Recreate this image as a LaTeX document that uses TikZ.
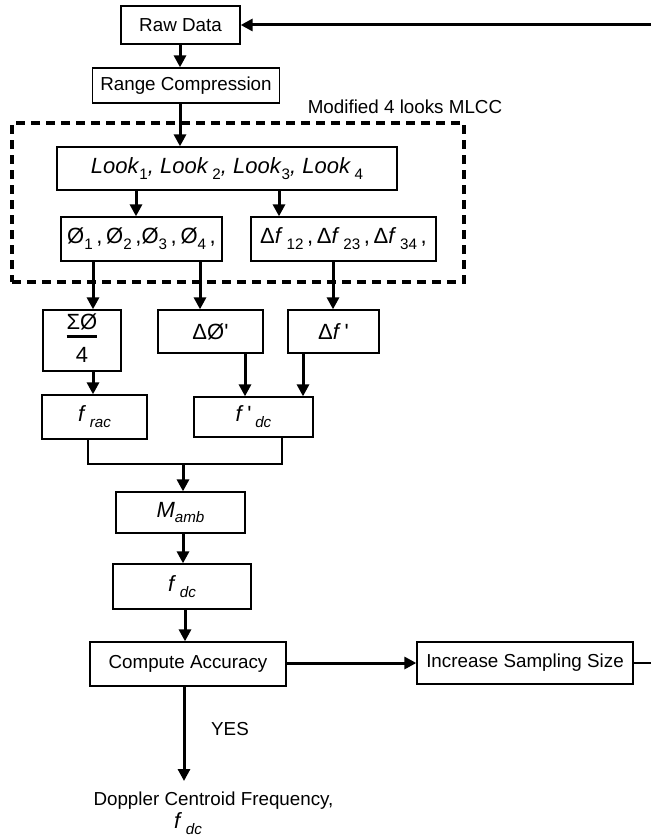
\documentclass[tikz,border=0pt]{standalone}
\usepackage{fontspec}
\setmainfont{Liberation Sans}
\usetikzlibrary{arrows.meta}

% lowered subscript in text mode
\newcommand\lowsub[1]{\raisebox{-0.5ex}{\fontsize{7.6}{8}\selectfont #1}}
\newcommand\tick{\textquotesingle}

\begin{document}
\begin{tikzpicture}[x=0.5pt,y=-0.5pt,
  box/.style={draw,line width=0.65pt,inner sep=0pt,font=\fontsize{9.4}{11}\selectfont},
  mbox/.style={box,font=\fontsize{11}{13}\selectfont},
  plain/.style={inner sep=0pt,font=\fontsize{9.4}{11}\selectfont},
  arr/.style={line width=1.5pt,-{Triangle[length=6pt,width=6pt]}},
  thin/.style={line width=0.65pt},
  groupbox/.style={draw,line width=1.6pt,dash pattern=on 4.5pt off 3pt,inner sep=0pt}]

\useasboundingbox (0,0) rectangle (651,840);
\clip (0,0) rectangle (651,840);

% dashed group for the MLCC stage
\node[groupbox,minimum width=226pt,minimum height=79.5pt] (mlcc) at (238,202.5) {};
\node[plain] (mlcclbl) at (405,107) {Modified 4 looks MLCC};

% boxes
\node[box,minimum width=59.5pt,minimum height=19pt] (raw) at (180.5,25) {Raw Data};
\node[box,minimum width=93.75pt,minimum height=17.5pt] (range) at (186,85.5) {Range Compression};
\node[mbox,minimum width=170pt,minimum height=21.5pt] (look) at (227,168.5)
  {\textit{Look}\lowsub{1}\textit{, Look}\,\lowsub{2}\textit{, Look}\lowsub{3}\textit{, Look}\,\lowsub{4}};
\node[mbox,minimum width=80.5pt,minimum height=22pt] (phi) at (141.5,239)
  {Ø\lowsub{1}\,,\,Ø\lowsub{2}\,,Ø\lowsub{3}\,,\,Ø\lowsub{4}\,,};
\node[mbox,minimum width=92.5pt,minimum height=22pt] (df) at (343.5,239)
  {Δ\textit{f}\,\lowsub{12}\,,\,Δ\textit{f}\,\lowsub{23}\,,\,Δ\textit{f}\,\lowsub{34}\,,};
\node[mbox,minimum width=39pt,minimum height=30.5pt] (sum) at (82,340.5)
  {\begin{tabular}{@{}c@{}}ΣØ\\[-1pt]\noalign{\hrule height 1.5pt}\rule{0pt}{12pt}4\end{tabular}};
\node[mbox,minimum width=52.5pt,minimum height=21.5pt] (dphi) at (210.5,331.5) {ΔØ\tick};
\node[mbox,minimum width=45.5pt,minimum height=21.5pt] (dfp) at (333.5,331.5) {Δ\textit{f}\,\tick};
\node[mbox,minimum width=52.5pt,minimum height=22pt] (frac) at (94.5,417) {\textit{f}\,\lowsub{\textit{rac}}};
\node[mbox,minimum width=59.5pt,minimum height=20pt] (fpdc) at (253.5,417) {\textit{f}\,\tick\,\lowsub{\textit{dc}}};
\node[mbox,minimum width=64.5pt,minimum height=20.5pt] (mamb) at (180.5,512.5) {\textit{M}\lowsub{\textit{amb}}};
\node[mbox,minimum width=69pt,minimum height=22.5pt] (fdc) at (182,586.5) {\textit{f}\,\lowsub{\textit{dc}}};
\node[box,minimum width=98pt,minimum height=22pt] (comp) at (188,664) {Compute Accuracy};
\node[box,minimum width=108pt,minimum height=21pt] (inc) at (525,663) {Increase Sampling Size};

% result text
\node[plain] (yes) at (230,729) {YES};
\node[plain] (result) at (213.5,801) {Doppler Centroid Frequency,};
\node[mbox,draw=none] (resultf) at (188,824) {\textit{f}\,\lowsub{\textit{dc}}};

% column positions of the vertical connectors
\coordinate (cA) at (180,0);
\coordinate (cB) at (136,0);
\coordinate (cC) at (279,0);
\coordinate (cD) at (93,0);
\coordinate (cE) at (200,0);
\coordinate (cF) at (333,0);
\coordinate (cG) at (245,0);
\coordinate (cH) at (303,0);
\coordinate (cK) at (183,0);
\coordinate (cL) at (185,0);
\coordinate (cM) at (184,0);

% merge of f_rac and f'_dc
\coordinate (mjL) at (88,464);
\coordinate (mjR) at (282,464);
\coordinate (mj) at (183,464);
\coordinate (out) at (184,781);

% loop back path beyond the right edge
\coordinate (loopB) at (690,663);
\coordinate (loopT) at (690,25);

% connectors
\draw[arr] (raw.south -| cA) -- (range.north -| cA);
\draw[arr] (range.south -| cA) -- (look.north -| cA);
\draw[arr] (look.south -| cB) -- (phi.north -| cB);
\draw[arr] (look.south -| cC) -- (df.north -| cC);
\draw[arr] (phi.south -| cD) -- (sum.north -| cD);
\draw[arr] (phi.south -| cE) -- (dphi.north -| cE);
\draw[arr] (df.south -| cF) -- (dfp.north -| cF);
\draw[arr] (sum.south -| cD) -- (frac.north -| cD);
\draw[arr] (dphi.south -| cG) -- (fpdc.north -| cG);
\draw[arr] (dfp.south -| cH) -- (fpdc.north -| cH);
\draw[thin] (frac.south -| mjL) -- (mjL) -- (mjR) -- (fpdc.south -| mjR);
\draw[arr] (mj) -- (mamb.north -| cK);
\draw[arr] (mamb.south -| cK) -- (fdc.north -| cK);
\draw[arr] (fdc.south -| cL) -- (comp.north -| cL);
\draw[arr] (comp.south -| cM) -- (out);
\draw[arr] (comp.east |- inc.west) -- (inc.west);
\draw[thin] (inc.east) -- (loopB) -- (loopT);
\draw[arr] (loopT) -- (raw.east);

\end{tikzpicture}
\end{document}
